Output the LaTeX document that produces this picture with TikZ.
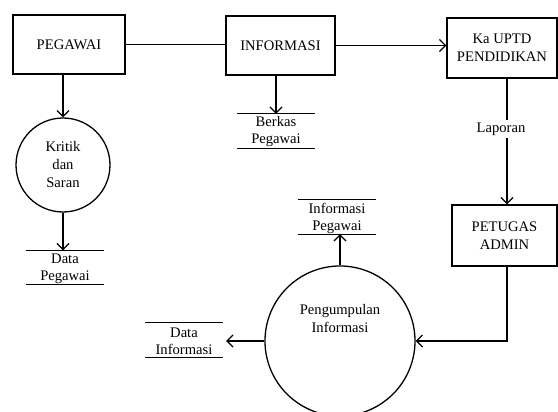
\documentclass[tikz,border=0pt]{standalone}
\usepackage{fontspec}
\setmainfont{Liberation Serif}
\usetikzlibrary{arrows.meta}
\begin{document}
\begin{tikzpicture}[x=1pt,y=-1pt,
  every node/.style={font=\fontsize{14.6}{18}\selectfont, align=center, inner sep=0pt},
  ent/.style={draw, line width=1.4pt},
  proc/.style={draw, circle, line width=1.3pt},
  store/.style={minimum width=78, minimum height=34, yshift=-1pt,
    font=\fontsize{14.6}{17}\selectfont},
  conn/.style={line width=1.3pt},
  arr/.style={conn, -{Straight Barb[length=6pt,width=12pt,line width=1.2pt]}}]
\useasboundingbox (0,0) rectangle (558,412);
\begin{scope}
\clip (0,0) rectangle (558,412);
% entities
\node[ent, minimum width=112, minimum height=59] (peg) at (69,44.5) {PEGAWAI};
\node[ent, minimum width=109, minimum height=59] (info) at (280.5,45.5) {INFORMASI};
\node[ent, minimum width=110, minimum height=60] (ka) at (502,48) {Ka UPTD\\PENDIDIKAN};
\node[ent, minimum width=105, minimum height=61] (pet) at (504.5,235.5) {PETUGAS\\ADMIN};
% processes
\node[proc, minimum size=94] (kritik) at (63,165) {Kritik\\dan\\Saran};
\node[proc, minimum size=150] (big) at (340,341) {Pengumpulan\\Informasi\\[28pt]};
% stores (text set 1pt lower than the middle of its two lines)
\node[store] (datapeg) at (65,267.5) {Data\\Pegawai};
\node[store] (berkas) at (276,131) {Berkas\\Pegawai};
\node[store] (infpeg) at (337,217) {Informasi\\Pegawai};
\node[store] (datainf) at (184,340) {Data\\Informasi};
\foreach \s in {datapeg,berkas,infpeg,datainf}{
  \coordinate (\s-tl) at ([yshift=1pt]\s.north west);
  \coordinate (\s-tr) at ([yshift=1pt]\s.north east);
  \coordinate (\s-bl) at ([yshift=1pt]\s.south west);
  \coordinate (\s-br) at ([yshift=1pt]\s.south east);
  \coordinate (\s-top) at ([yshift=1pt]\s.north);
  \coordinate (\s-bot) at ([yshift=1pt]\s.south);
  \draw[conn] (\s-tl) -- (\s-tr);
  \draw[conn] (\s-bl) -- (\s-br);
}
% connectors
\coordinate (lx) at (507,0);
\draw[conn] (peg.east) -- (peg.east -| info.west);
\draw[arr] (info.east) -- (info.east -| ka.west);
\draw[arr] (peg.south -| kritik.north) -- (kritik.north);
\draw[arr] (kritik.south) -- (datapeg-top -| kritik.south);
\draw[arr] (info.south -| berkas-top) -- (berkas-top);
\draw[arr] (ka.south -| lx) -- node[pos=0.4, fill=white, inner ysep=3pt, xshift=-6pt] (lap) {Laporan} (pet.north -| lx);
\draw[arr] (pet.south -| lx) |- (big.east);
\draw[arr] (big.north) -- (infpeg-bot -| big.north);
\draw[arr] (big.west) -- ([xshift=3pt]datainf.east);
\end{scope}
\end{tikzpicture}
\end{document}
